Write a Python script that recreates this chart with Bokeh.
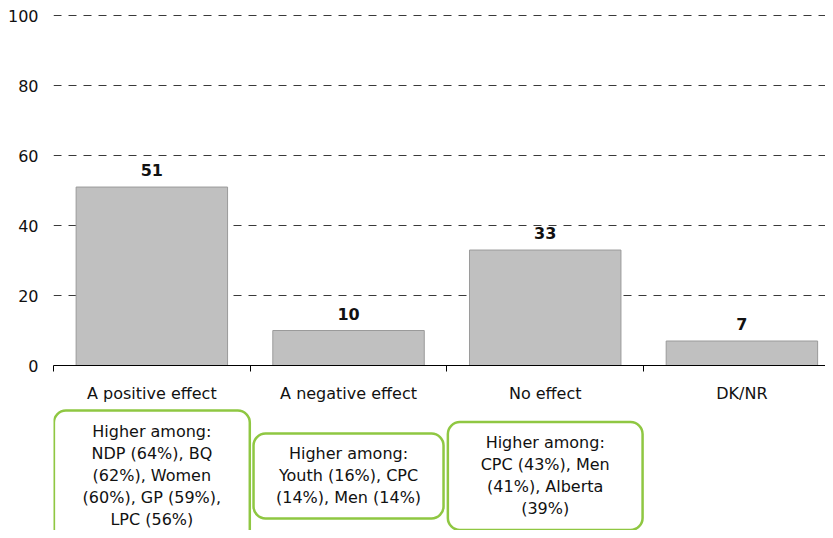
from bokeh.plotting import figure
from bokeh.models import Range1d, FixedTicker, ColumnDataSource
from bokeh.layouts import column
from bokeh.core.properties import value
from bokeh.embed import file_html
from bokeh.resources import INLINE

# ---- data ----
categories = ["A positive effect", "A negative effect", "No effect", "DK/NR"]
values = [51, 10, 33, 7]
y_ticks = [0, 20, 40, 60, 80, 100]
note_lines = [
    ["Higher among:", "NDP (64%), BQ", "(62%), Women", "(60%), GP (59%),", "LPC (56%)"],
    ["Higher among:", "Youth (16%), CPC", "(14%), Men (14%)"],
    ["Higher among:", "CPC (43%), Men", "(41%), Alberta", "(39%)"],
    [],
]

# ---- style ----
FONT = "DejaVu Sans"
TEXT_COLOR = "#111111"
BAR_FILL = "#C0C0C0"
BAR_LINE = "#9A9A9A"
GREEN = "#8FC742"
box_widths = [0.996, 0.966, 0.99, 0.0]  # in category units
LINE_PX = 23
PAD_PX = 8

x = list(range(len(categories)))

TOP_H = 407
p = figure(width=825, height=TOP_H,
           x_range=Range1d(-0.5, 3.425), y_range=Range1d(0, 100.6),
           output_backend="svg", toolbar_location=None,
           min_border_left=53, min_border_right=0, min_border_top=13, min_border_bottom=42)
p.outline_line_color = None
p.background_fill_color = "white"

src = ColumnDataSource(dict(x=x, top=values, label=[str(v) for v in values]))
p.vbar(x="x", top="top", width=0.77, source=src,
       fill_color=BAR_FILL, line_color=BAR_LINE, line_width=1)
p.text(x="x", y="top", text="label", source=src,
       text_align="center", text_baseline="alphabetic", y_offset=-17,
       text_font=value(FONT), text_font_size="16px", text_font_style="bold",
       text_color=TEXT_COLOR)

# x axis
p.xaxis.ticker = FixedTicker(ticks=x, minor_ticks=[i - 0.5 for i in x])
p.xaxis.major_label_overrides = {i: c for i, c in zip(x, categories)}
p.xaxis.major_tick_line_color = None
p.xaxis.major_tick_out = 0
p.xaxis.major_tick_in = 0
p.xaxis.minor_tick_line_color = "black"
p.xaxis.minor_tick_out = 6
p.xaxis.minor_tick_in = 0
p.xaxis.axis_line_color = "black"
p.xaxis.major_label_standoff = 12
p.xaxis.axis_label_standoff = 0
p.xaxis.major_label_text_font = FONT
p.xaxis.major_label_text_font_size = "16px"
p.xaxis.major_label_text_color = TEXT_COLOR

# y axis
p.yaxis.ticker = FixedTicker(ticks=y_ticks)
p.yaxis.axis_line_color = None
p.yaxis.major_tick_line_color = None
p.yaxis.major_tick_out = 0
p.yaxis.major_tick_in = 0
p.yaxis.minor_tick_line_color = None
p.yaxis.minor_tick_out = 0
p.yaxis.minor_tick_in = 0
p.yaxis.axis_label_standoff = 0
p.yaxis.major_label_standoff = 15
p.yaxis.major_label_text_font = FONT
p.yaxis.major_label_text_font_size = "16px"
p.yaxis.major_label_text_color = TEXT_COLOR

p.xgrid.grid_line_color = None
p.ygrid.grid_line_color = "#3A3A3A"
p.ygrid.grid_line_dash = "8 7"
p.ygrid.grid_line_width = 1

# ---- notes below ----
QH = 530 - TOP_H
q = figure(width=825, height=QH, x_range=p.x_range, y_range=Range1d(QH, 0),
           output_backend="svg", toolbar_location=None,
           x_axis_location=None, y_axis_location=None,
           min_border_left=53, min_border_right=0, min_border_top=0, min_border_bottom=0)
q.outline_line_color = None
q.xgrid.visible = False
q.ygrid.visible = False

cy_text = 475 - TOP_H
cy_box = 475.5 - TOP_H
bl, br, bt, bb, tx, tt = [], [], [], [], [], []
for i, lines in enumerate(note_lines):
    if not lines:
        continue
    h = len(lines) * LINE_PX + 2 * PAD_PX
    w = box_widths[i]
    bl.append(i - w / 2)
    br.append(i + w / 2)
    bt.append(cy_box - h / 2)
    bb.append(cy_box + h / 2)
    tx.append(i)
    tt.append("\n".join(lines))

q.quad(left=bl, right=br, top=bt, bottom=bb, fill_color="white",
       line_color=GREEN, line_width=2.5, border_radius=12)
q.text(x=tx, y=[cy_text] * len(tx), text=tt, text_align="center",
       text_baseline="middle", text_line_height=1.16,
       text_font=value(FONT), text_font_size="16px", text_color=TEXT_COLOR)

layout = column(p, q, spacing=0)
open("out.html", "w").write(file_html(layout, INLINE))
